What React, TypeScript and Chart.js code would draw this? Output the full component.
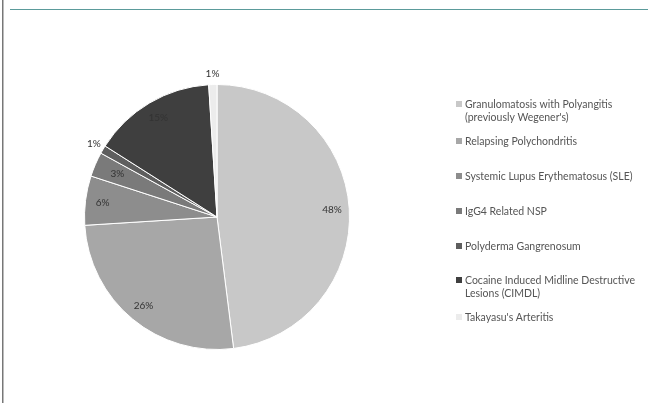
import React, { useEffect, useRef } from "react";
import { Chart, registerables } from "chart.js";

Chart.register(...registerables);

const categories: string[][] = [
  ["Granulomatosis with Polyangitis", "(previously Wegener's)"],
  ["Relapsing Polychondritis"],
  ["Systemic Lupus Erythematosus (SLE)"],
  ["IgG4 Related NSP"],
  ["Polyderma Gangrenosum"],
  ["Cocaine Induced Midline Destructive", "Lesions (CIMDL)"],
  ["Takayasu's Arteritis"],
];
const values: number[] = [48, 26, 6, 3, 1, 15, 1];
const colors: string[] = ["#c8c8c8", "#a7a7a7", "#8d8d8d", "#7a7a7a", "#5e5e5e", "#3f3f3f", "#ececec"];
const legendY: number[] = [105, 142, 177, 212, 247, 281, 318];

const FONT = "Lato, 'Open Sans', sans-serif";

const labelPlugin = {
  id: "pctLabels",
  afterDatasetsDraw(chart: any) {
    const ctx = chart.ctx;
    const meta = chart.getDatasetMeta(0);
    const total = values.reduce((a, b) => a + b, 0);
    ctx.save();
    ctx.font = `10px ${FONT}`;
    ctx.fillStyle = "#333";
    ctx.textAlign = "center";
    ctx.textBaseline = "middle";
    meta.data.forEach((arc: any, i: number) => {
      const { x, y, startAngle, endAngle, outerRadius } = arc.getProps(
        ["x", "y", "startAngle", "endAngle", "outerRadius"], true
      );
      const mid = (startAngle + endAngle) / 2;
      const pct = Math.round((values[i] / total) * 100);
      const r = pct < 2 ? outerRadius * 1.08 : pct < 5 ? outerRadius * 0.82 : outerRadius * 0.87;
      ctx.fillText(pct + "%", x + Math.cos(mid) * r, y + Math.sin(mid) * r);
    });
    ctx.restore();
  },
  afterDraw(chart: any) {
    const ctx = chart.ctx;
    ctx.save();
    ctx.font = `10.5px ${FONT}`;
    ctx.textBaseline = "middle";
    ctx.textAlign = "left";
    categories.forEach((lines, i) => {
      const y0 = legendY[i];
      ctx.fillStyle = colors[i];
      ctx.fillRect(456, y0 - 4, 6, 6);
      ctx.fillStyle = "#555";
      lines.forEach((t, j) => ctx.fillText(t, 465, y0 + j * 13));
    });
    ctx.restore();
  },
};

export default function App() {
  const ref = useRef<HTMLCanvasElement>(null);
  useEffect(() => {
    document.body.style.margin = "0";
    const chart = new Chart(ref.current!, {
      type: "pie",
      data: {
        labels: categories.map((l) => l.join(" ")),
        datasets: [
          {
            data: values,
            backgroundColor: colors,
            borderColor: "#ffffff",
            borderWidth: 1,
          },
        ],
      },
      options: {
        animation: false,
        responsive: false,
        layout: { padding: { left: 84, right: 299, top: 84, bottom: 53 } },
        plugins: { legend: { display: false }, tooltip: { enabled: false } },
      },
      plugins: [labelPlugin],
    });
    return () => chart.destroy();
  }, []);
  return (
    <div style={{ position: "relative", width: 649, height: 403, background: "#fff", overflow: "hidden" }}>
      <div style={{ position: "absolute", left: 2, top: 0, width: 1, height: 403, background: "#777" }} />
      <div style={{ position: "absolute", left: 3, top: 0, width: 1, height: 403, background: "#bbb" }} />
      <div style={{ position: "absolute", left: 10, top: 9, width: 638, height: 1, background: "#5b9b9b" }} />
      <canvas ref={ref} width={649} height={403} style={{ position: "absolute", left: 0, top: 0 }} />
    </div>
  );
}
